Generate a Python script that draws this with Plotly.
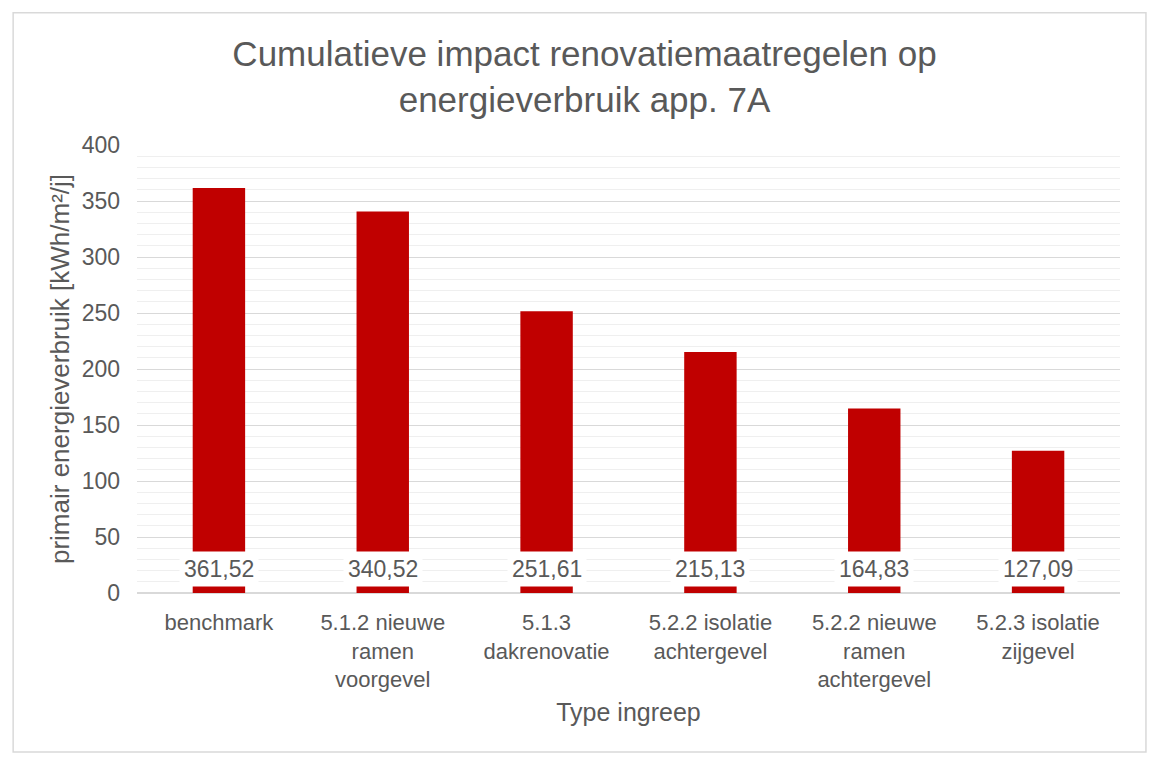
import plotly.graph_objects as go

categories = [
    "benchmark",
    "5.1.2 nieuwe<br>ramen<br>voorgevel",
    "5.1.3<br>dakrenovatie",
    "5.2.2 isolatie<br>achtergevel",
    "5.2.2 nieuwe<br>ramen<br>achtergevel",
    "5.2.3 isolatie<br>zijgevel",
]
values = [361.52, 340.52, 251.61, 215.13, 164.83, 127.09]
value_labels = ["361,52", "340,52", "251,61", "215,13", "164,83", "127,09"]

grey = "#595959"
font_family = "Liberation Sans, Arial, sans-serif"

fig = go.Figure(go.Bar(
    x=categories,
    y=values,
    marker=dict(color="#C00000", line=dict(width=0)),
    width=0.32,
    hoverinfo="x+y",
))

# data labels with white boxes near the base of each bar
annotations = []
for cat, lab in zip(categories, value_labels):
    annotations.append(dict(
        x=cat, y=21, xref="x", yref="y", text=lab, showarrow=False,
        bgcolor="white", font=dict(size=23, color=grey, family=font_family),
        borderpad=4,
    ))

# page is offset 8px by the html body margin, so the figure is a bit smaller
fig.update_layout(
    width=1153,
    height=755,
    margin=dict(l=129, r=41, t=137, b=170),
    paper_bgcolor="white",
    plot_bgcolor="white",
    font=dict(family=font_family, color=grey),
    title=dict(
        text="Cumulatieve impact renovatiemaatregelen op<br>energieverbruik app. 7A",
        x=0.5, xanchor="center", yref="container", y=0.923, yanchor="top",
        font=dict(size=35, color=grey, family=font_family),
    ),
    showlegend=False,
    annotations=annotations,
    shapes=[dict(
        type="rect", xref="paper", yref="paper",
        x0=-0.126, x1=1.0264, y0=-0.355, y1=1.295,
        line=dict(color="#d9d9d9", width=1.5), layer="below",
    )],
)

fig.update_yaxes(
    range=[0, 400],
    dtick=50,
    showgrid=True,
    gridcolor="#d9d9d9",
    gridwidth=1,
    zeroline=True,
    zerolinecolor="#d9d9d9",
    zerolinewidth=1.5,
    showline=False,
    minor=dict(dtick=10, showgrid=True, gridcolor="#efefef", gridwidth=1),
    tickfont=dict(size=23, color=grey),
    ticks="",
    ticklabelstandoff=16,
    title=dict(text="primair energieverbruik [kWh/m²/j]", font=dict(size=26, color=grey), standoff=4),
)

fig.update_xaxes(
    showgrid=False,
    showline=False,
    tickfont=dict(size=22, color=grey),
    ticks="",
    ticklabelstandoff=14,
    title=dict(text="Type ingreep", font=dict(size=25, color=grey), standoff=12),
)

fig.write_html("out.html")
